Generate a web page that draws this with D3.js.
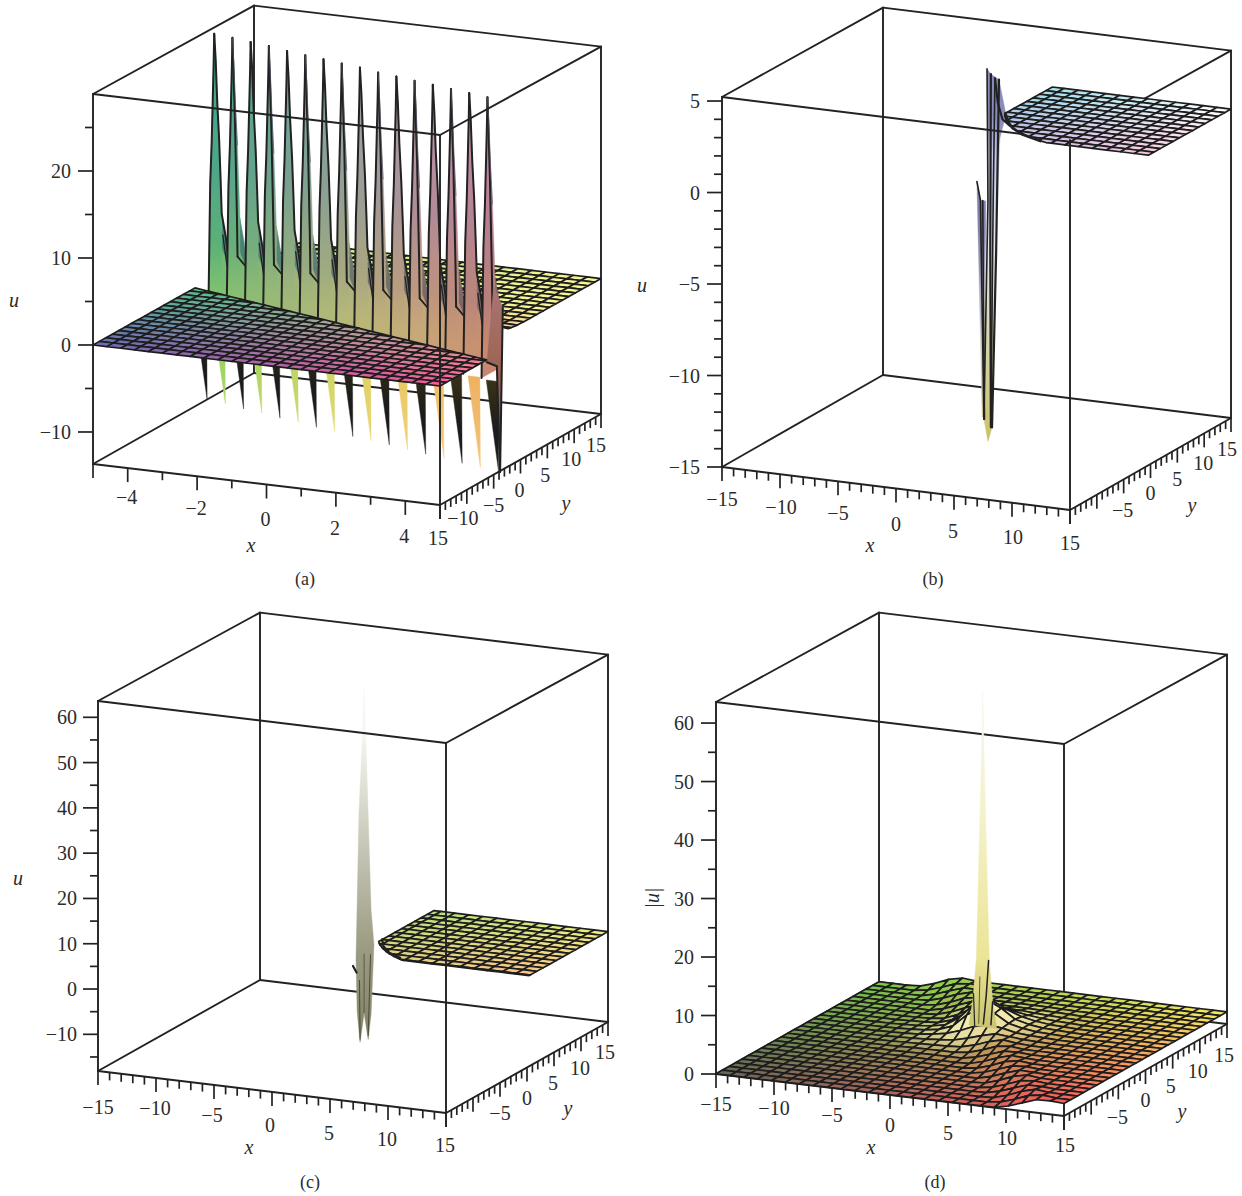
<!DOCTYPE html>
<html><head><meta charset="utf-8">
<script src="https://cdnjs.cloudflare.com/ajax/libs/d3/7.8.5/d3.min.js"></script>
<style>html,body{margin:0;padding:0;background:#fff}svg{display:block}text{font-family:"Liberation Serif",serif;fill:#2b2b2b}</style>
</head><body>
<svg id="chart" width="1242" height="1196"></svg>
<script>
// ---------- axis tick labels ----------
const aXTicks=[-4,-2,0,2,4];
const aZTicks=[-10,0,10,20];
const fullXTicks=[-15,-10,-5,0,5,10,15];
const aYTicks=[-15,-10,-5,0,5,10,15];
const yTicks=[-5,0,5,10,15];
const bZTicks=[-15,-10,-5,0,5];
const cZTicks=[-10,0,10,20,30,40,50,60];
const dZTicks=[0,10,20,30,40,50,60];
const captions=["(a)","(b)","(c)","(d)"];

// ---------- panel (a): spikes along the soliton ridge ----------
const aSpikeX=[-4.6,-3.99,-3.38,-2.77,-2.16,-1.55,-0.94,-0.33,0.28,0.89,1.5,2.11,2.72,3.33,3.94,4.55];
const aSpikeY=[5,4.45,3.9,3.35,2.8,2.25,1.7,1.15,0.6,0.05,-0.5,-1.05,-1.6,-2.15,-2.7,-3.25];
const aSpikeTop=[29.2,29.2,29.2,29.2,29.1,29.1,29.1,29.1,29.1,29.0,29.0,29.0,29.0,29.0,29.0,29.0];
const aLowX=[-4.85,-4.24,-3.63,-3.02,-2.41,-1.8,-1.19,-0.58,0.03,0.64,1.25,1.86,2.47,3.08,3.69,4.3,4.91];
const aLowY=[5.3,4.75,4.2,3.65,3.1,2.55,2,1.45,0.9,0.35,-0.2,-0.75,-1.3,-1.85,-2.4,-2.95,-3.5];
const aLowZ=[-13.3,-13.3,-13.4,-13.4,-13.5,-13.5,-13.6,-13.6,-13.7,-13.7,-13.7,-13.8,-13.8,-13.8,-13.9,-13.9,-13.95];
const sliverLeftDy=[-1.1,-0.75,-0.47,-0.28,-0.1,0];
const sliverLeftZ=[-3,12.1,16.9,21.5,26,29.2];
const sliverRightDy=[0,0.28,0.56,0.93,1.2,1.4];
const sliverRightZ=[29.2,26,21.2,16.5,11.8,7.9];
const humpDy=[1.4,2.2,2.6,5];
const humpZ=[7.9,4.8,2.5,1.5];
const aWallY=[-6.25,-4.4,-3.8,-3.3,-5];
const aWallZ=[-0.3,-1.4,-13.8,5,8];
const aFarS=[4,6,40];
const aFarZ=[2.2,2,2];
// ---------- panel (b) ----------
const bMainX=[-2.25,-2.6,-2.6,-2.25,-2.33,-2,-1.65,-1.3,-1.2,-1.55,-1.9];
const bMainZ=[-16.3,-15.1,-10,-1,4.16,3.9,3.7,3.65,0.8,-6,-15.5];
const bShortX=[-3.2,-2.9,-2.45,-2.45,-2.75];
const bShortZ=[-2.1,-3.1,-3.1,-15,-15];
const bHumpX=[-2,-1.3,-0.7,-1.4];
const bHumpZ=[3.9,3.65,1.78,0];
const bLinesX=[[-2.33,-2.25,-2.6],[-2,-2.05,-2],[-1.65,-1.8,-2],[-1.3,-1.55,-1.9],[-3.2,-2.9,-2.6],[-2.7,-2.65,-2.55],[-1.65,-1.4,-1,-0.4]];
const bLinesZ=[[4.16,-3.1,-15.1],[3.9,-5.8,-15.5],[3.7,-3,-15.5],[3.65,-6,-15.5],[-2.1,-3.1,-15.1],[-3.1,-8,-15.1],[3.7,2.36,1.5,1.2]];
const bRimX=[-0.4,0.8,2,3.4,5.6];
const bRimY=[6.25,4.1,2.4,1.07,-0.2];
// ---------- panel (c) ----------
const cSpikeX=[-2.3,-2.12,-1.95,-1.7,-1.45,-1.7,-1.95,-2.3,-2.65,-2.9,-3,-2.75,-2.5];
const cSpikeZ=[56.3,42.6,28,7,-0.66,-16.1,-21.85,-16.1,-22.7,-16,-4.4,28,42.6];
const cMarkX=[-3.26,-2.95];
const cMarkZ=[-5.96,-7.3];
const cRimX=[0,1,2.2,3.6];
const cRimY=[5.4,3.5,2,1];
// ---------- panel (d) ----------
const dStepS=[-60,-5,-4,-2,-0.5,1,3,60];
const dStepZ=[0,0,0.15,1,1.9,2.4,2.1,2];
const dRadialR=[0,1.2,2.4,3.6,5,8,80];
const dRadialZ=[4,3.2,1.4,0.7,0.3,0.05,0];
const dPeakZ=[59,50,40,23,13,6,1.5];
const dPeakHalf=[0,0.09,0.22,0.43,0.56,0.86,1.2];

// ---------- panel layout ----------
const panels={
 a:{o:[93,464],ex:[347,41],ey:[161,-91],h:370,xd:[-5,5],yd:[-15,15],zd:[-13.68,28.85],
    c00:"#6a6ab8",c10:"#f85898",c01:"#48f478",c11:"#f5f590",xStep:1,xMajor:2,zMinor:5},
 b:{o:[722,467],ex:[348,43],ey:[161,-92],h:370,xd:[-15,15],yd:[-15,15],zd:[-15,5.22],
    c00:"#af87ff",c10:"#f191c1",c01:"#41c9d9",c11:"#ffffff",xStep:1,xMajor:5,zMinor:1},
 c:{o:[98,1071],ex:[348,42],ey:[162,-91],h:370,xd:[-15,15],yd:[-15,15],zd:[-18.1,63.6],
    c00:"#ffff70",c10:"#ff9090",c01:"#80d080",c11:"#f0f080",xStep:1,xMajor:5,zMinor:5},
 d:{o:[716,1074],ex:[348,42],ey:[163,-92],h:372,xd:[-15,15],yd:[-15,15],zd:[0,63.6],
    c00:"#66665a",c10:"#ff5c5c",c01:"#78c848",c11:"#f8ec60",xStep:1,xMajor:5,zMinor:5}
};
const svg=d3.select("#chart"), defs=svg.append("defs");
const INK="#222", line=d3.line(), BOX=1.9, CELL=1.7;
let gid=0;
for(const k in panels){
 const c=panels[k];
 const fx=d3.scaleLinear().domain(c.xd).range([0,1]),
       fy=d3.scaleLinear().domain(c.yd).range([0,1]),
       fz=d3.scaleLinear().domain(c.zd).range([0,c.h]);
 c.fx=fx;c.fy=fy;
 c.P=(x,y,z)=>[c.o[0]+fx(x)*c.ex[0]+fy(y)*c.ey[0], c.o[1]+fx(x)*c.ex[1]+fy(y)*c.ey[1]-fz(z)*(1-0.007*fy(y))];
 c.g=svg.append("g").attr("id","panel-"+k);
 c.color=(x,y)=>{const a=d3.interpolateRgb(c.c00,c.c10)(fx(x)),b=d3.interpolateRgb(c.c01,c.c11)(fx(x));return d3.interpolateRgb(a,b)(fy(y));};
}
function seg(c,pts,w=BOX,col=INK,cap="round"){
 c.g.append("path").attr("d",line(pts)).attr("fill","none").attr("stroke",col).attr("stroke-width",w).attr("stroke-linecap",cap).attr("stroke-linejoin","round");
}
function grad(c,stops){ // stops: [z,color]
 const id="g"+(gid++),y0=c.P(c.xd[0],c.yd[0],stops[0][0])[1],y1=c.P(c.xd[0],c.yd[0],stops[stops.length-1][0])[1];
 return {id,add(dy=0){
  const g=defs.append("linearGradient").attr("id",id).attr("gradientUnits","userSpaceOnUse").attr("x1",0).attr("x2",0).attr("y1",y0+dy).attr("y2",y1+dy);
  stops.forEach(s=>{g.append("stop").attr("offset",(c.P(c.xd[0],c.yd[0],s[0])[1]-y0)/(y1-y0)).attr("stop-color",s[1]);});
  return "url(#"+id+")";}};
}
function poly(c,pts,fill,stroke){
 c.g.append("path").attr("d",line(pts)+"Z").attr("fill",fill).attr("stroke",stroke||fill).attr("stroke-width",stroke?1:0.4);
}
function backBox(c){
 const [x0,x1]=c.xd,[y0,y1]=c.yd,[z0,z1]=c.zd,P=c.P;
 [[[x0,y1,z0],[x0,y1,z1]],[[x0,y0,z1],[x0,y1,z1]],[[x0,y1,z1],[x1,y1,z1]],[[x0,y0,z0],[x0,y1,z0]],[[x0,y1,z0],[x1,y1,z0]],
  [[x0,y0,z0],[x1,y0,z0]],[[x1,y0,z0],[x1,y1,z0]],[[x1,y1,z0],[x1,y1,z1]]]
 .forEach(s=>seg(c,s.map(p=>P(...p))));
}
function frontTop(c){
 const [x0,x1]=c.xd,[y0,y1]=c.yd,z1=c.zd[1],P=c.P;
 seg(c,[P(x0,y0,z1),P(x1,y0,z1)]);seg(c,[P(x1,y0,z1),P(x1,y1,z1)]);
}
function frontVerticals(c){
 const [x0,x1]=c.xd,[y0,y1]=c.yd,[z0,z1]=c.zd,P=c.P;
 seg(c,[P(x0,y0,z0),P(x0,y0,z1)]);
 seg(c,[P(x1,y0,z0),P(x1,y0,z1)]);
}
function axes(c,cfg){
 const [x0,x1]=c.xd,[y0,y1]=c.yd,[z0,z1]=c.zd,P=c.P;
 const g=c.g;
 const txt=(x,y,s,anchor="middle")=>g.append("text").attr("x",x).attr("y",y).attr("text-anchor",anchor).attr("dominant-baseline","central").attr("font-size",20).text(String(s).replace("-","\u2212"));
 d3.range(x0,x1+0.001,c.xStep).forEach(v=>{const p=P(v,y0,z0),m=Math.abs(v%c.xMajor)<1e-6||v===x0||v===x1;seg(c,[p,[p[0],p[1]+(m?14:8)]],1.7,INK,"butt");});
 d3.range(y0,y1+0.001,1).forEach(v=>{const p=P(x1,v,z0),m=Math.abs(v%5)<1e-6;seg(c,[p,[p[0],p[1]+(m?14:8)]],1.7,INK,"butt");});
 const zs=d3.range(Math.ceil(z0/c.zMinor)*c.zMinor,z1+0.001,c.zMinor);
 zs.forEach(v=>{const p=P(x0,y0,v),m=cfg.zTicks.includes(v);seg(c,[p,[p[0]-(m?15:8),p[1]]],1.7,INK,"butt");});
 cfg.xTicks.forEach((v,i)=>{const p=P(v,y0,z0),o=cfg.xOff[i];txt(p[0]+o[0],p[1]+o[1],v);});
 cfg.yTicks.forEach((v,i)=>{const p=P(x1,v,z0),o=cfg.yOff[i];txt(p[0]+o[0],p[1]+o[1],cfg.yText?cfg.yText(v):v);});
 cfg.zTicks.forEach(v=>{const p=P(x0,y0,v);txt(cfg.zEnd,p[1],v,"end");});
 const lab=(p,s,rot)=>{const t=g.append("text").attr("x",p[0]).attr("y",p[1]).attr("text-anchor","middle").attr("dominant-baseline","central").attr("font-size",20).attr("font-style","italic").text(s);if(rot)t.attr("transform",`rotate(-90 ${p[0]} ${p[1]})`);};
 lab(cfg.xLab,"x");lab(cfg.yLab,"y");lab(cfg.zLab,cfg.zName||"u",cfg.rot);
}
function clipPoly(pts,fn){
 const out=[];
 for(let i=0;i<pts.length;i++){
  const a=pts[i],b=pts[(i+1)%pts.length],fa=fn(a[0],a[1]),fb=fn(b[0],b[1]);
  if(fa>=0)out.push(a);
  if((fa>=0)!==(fb>=0)){const t=fa/(fa-fb);out.push([a[0]+t*(b[0]-a[0]),a[1]+t*(b[1]-a[1])]);}
 }
 return out;
}
function surface(c,n,keep,zOf,colorOf){
 const xs=d3.range(n[0]+1).map(i=>c.xd[0]+(c.xd[1]-c.xd[0])*i/n[0]),
       ys=d3.range(n[1]+1).map(i=>c.yd[0]+(c.yd[1]-c.yd[0])*i/n[1]);
 const cells=[];
 for(let i=0;i<n[0];i++)for(let j=0;j<n[1];j++)cells.push([i,j]);
 cells.sort((a,b)=>(b[1]-b[0])-(a[1]-a[0]));
 const g=c.g.append("g").attr("stroke","#1d1d1d").attr("stroke-width",CELL).attr("stroke-linejoin","round");
 cells.forEach(([i,j])=>{
  let q=[[xs[i],ys[j]],[xs[i+1],ys[j]],[xs[i+1],ys[j+1]],[xs[i],ys[j+1]]];
  keep.forEach(fn=>{if(q.length)q=clipPoly(q,fn);});
  if(q.length<3)return;
  const cx=d3.mean(q,p=>p[0]),cy=d3.mean(q,p=>p[1]);
  g.append("path").attr("d",line(q.map(p=>c.P(p[0],p[1],zOf(p[0],p[1]))))+"Z")
   .attr("fill",colorOf?colorOf(cx,cy,zOf(cx,cy)):c.color(cx,cy));
 });
}

// ================= PANEL A =================
{
 const c=panels.a,P=c.P;
 backBox(c);
 const ridge=d3.scaleLinear().domain([-5,5]).range([4,-6.3]);
 const farZ=d3.scaleLinear().domain(aFarS).range(aFarZ);
 const warm=d3.scaleLinear().domain([5,-3]).range([0,0.85]).clamp(true);
 surface(c,[25,25],[(x,y)=>y-ridge(x)-4,(x,y)=>x+3.7],(x,y)=>farZ(y-ridge(x)),
  (x,y)=>d3.interpolateRgb(d3.interpolateRgb("#b8e890","#f8f494")(c.fx(x)),"#fcc090")(warm(y)));
 const topCol=d3.piecewise(d3.interpolateRgb,["#3ca88e","#6aa8a0","#9aa6a6","#b89ab0","#c888b4"]),
       midCol=d3.piecewise(d3.interpolateRgb,["#4ea68a","#76a090","#98a094","#b08c98","#b88090"]),
       baseCol=d3.piecewise(d3.interpolateRgb,["#5cb078","#90ac80","#a8a880","#c09880","#b88078"]),
       humpCol=d3.piecewise(d3.interpolateRgb,["#468a78","#5f8a7c","#757c72","#80706e","#8a6a70"]),
       curtCol=d3.piecewise(d3.interpolateRgb,["#7cc070","#a0b878","#b8b878","#c8a878","#c88870"]),
       lowCol=d3.piecewise(d3.interpolateRgb,["#80cc50","#a8d058","#d8d060","#ecc060","#eeaa60"]);
 // lower spikes
 aLowX.forEach((x,j)=>{
  const y=aLowY[j],z=aLowZ[j],t=j/16,dark=j%2===0;
  const pts=[P(x-0.17,y-1.2,-3),P(x+0.17,y-1.2,-3),P(x,y,z)];
  const dy=P(x,y,0)[1]-P(c.xd[0],c.yd[0],0)[1];
  const gr=grad(c,dark?[[-3,"#3a3418"],[-7,"#262418"],[-9,"#1c1c1c"],[-14,"#1c1c1c"]]:[[-3,lowCol(t)],[-14,d3.interpolateRgb(lowCol(t),"#fff0a0")(0.35)]]);
  poly(c,pts,gr.add(dy));
 });
 // upper spikes
 aSpikeX.forEach((x,i)=>{
  const y=aSpikeY[i],t=i/15,k=aSpikeTop[i]/29.2,lim=i===15?2.6:99;
  const A=(d,z)=>P(x,y+Math.min(d,lim),z*k);
  const py0=P(x,y,0)[1]-P(c.xd[0],c.yd[0],0)[1];
  // curtain reaches down below the near plate's back edge
  const cur=grad(c,[[8,baseCol(t)],[0,curtCol(t)]]);
  poly(c,[A(1.2,-3),A(1.2,6),A(2.4,3.6),A(3.7,2),A(3.7,-3)],cur.add(py0));
  // hump
  const hg=grad(c,[[10,humpCol(t)],[2,d3.interpolateRgb(humpCol(t),"#000")(0.08)]]);
  poly(c,[...humpDy.map((d,n)=>A(d,humpZ[n])),A(3.4,1.5),A(2.6,1.8),A(1.4,4)],hg.add(py0));
  // sliver
  const sg=grad(c,[[29,topCol(t)],[14,midCol(t)],[5,baseCol(t)],[0,curtCol(t)]]);
  poly(c,[...sliverLeftDy.map((d,n)=>A(d,sliverLeftZ[n])),...sliverRightDy.map((d,n)=>A(d,sliverRightZ[n])),A(1.4,-3)],sg.add(py0));
  // ink
  seg(c,sliverLeftDy.map((d,n)=>A(d,sliverLeftZ[n])),2);
  if(i%2===0){
   seg(c,[...sliverRightDy.map((d,n)=>A(d,sliverRightZ[n])),...humpDy.slice(1,3).map((d,n)=>A(d,humpZ[n+1]))],2);
   seg(c,[A(1.6,5.4),A(2.4,1.5)],1.3);
  } else {
   seg(c,[A(0,29.2),A(0.45,20),A(0.85,8),A(0.95,3.6)],2);
   seg(c,[A(0.95,3.6),A(2.8,1.6)],1.8);
   seg(c,sliverRightDy.slice(0,4).map((d,n)=>A(d,sliverRightZ[n])),0.7,"#556");
  }
 });
 // right end wall
 const wg=grad(c,[[8,"#a87478"],[0,"#a06858"],[-14,"#6a4a3a"]]);
 poly(c,aWallY.map((v,i)=>P(5,v,aWallZ[i])),wg.add(8));
 seg(c,[P(5,-3.3,5),P(5,-3.8,-13.8)],2);
 // near plate
 surface(c,[25,25],[(x,y)=>ridge(x)-y],()=>0);
 seg(c,[P(5,-6.25,-0.3),P(5,-4.4,-1.4),P(5,-4.15,-7),P(5,-3.8,-13.8)],2);
 frontTop(c);
 frontVerticals(c);
 axes(c,{xTicks:aXTicks,xOff:[[-1,29],[-1,32],[-1,34],[-1,35],[-1,35]],
  yTicks:aYTicks,yOff:[[-2,33],[-4,28],[0,30],[-1,30],[-2,31],[-3,30],[-5,31]],
  yText:v=>v===-15?"15":v,
  zTicks:aZTicks,zEnd:71,xLab:[251,545],yLab:[566,503],zLab:[14,300]});
}
// ================= PANEL B =================
{
 const c=panels.b,P=c.P,Y=7;
 backBox(c);
 const hg=grad(c,[[4,"#8a8ab8"],[0,"#c8c8e4"]]);
 poly(c,bShortX.map((x,i)=>P(x,Y,bShortZ[i])),grad(c,[[-2,"#8080a8"],[-8,"#c8c8d0"],[-15,"#c0b860"]]).add());
 poly(c,bMainX.map((x,i)=>P(x,Y,bMainZ[i])),grad(c,[[4.2,"#8c8cbc"],[2,"#c4c8e8"],[-3,"#e6e8f0"],[-8,"#d8d4b0"],[-14,"#c8c060"],[-16.3,"#d8d24c"]]).add());
 poly(c,bHumpX.map((x,i)=>P(x,Y,bHumpZ[i])),hg.add());
 bLinesX.forEach((xs,k)=>seg(c,xs.map((x,i)=>P(x,Y,bLinesZ[k][i])),k===1||k===3||k===6?2.2:1.6));
 frontTop(c);
 surface(c,[25,25],[(x,y)=>x+y-4.45-0.03*(x-y)*(x-y),(x,y)=>x+0.4,(x,y)=>y+0.4],()=>2);
 seg(c,bRimX.map((x,i)=>P(x,bRimY[i],2)),2.6);
 frontVerticals(c);
 axes(c,{xTicks:fullXTicks,xOff:[[0,32],[1,33],[0,32],[0,35],[-1,35],[1,34],[0,33]],
  yTicks:yTicks,yOff:[[-1,31],[0,29],[0,30],[-1,30],[-4,31]],
  zTicks:bZTicks,zEnd:700,xLab:[870,545],yLab:[1192,505],zLab:[642,285]});
}
// ================= PANEL C =================
{
 const c=panels.c,P=c.P,Y=7;
 backBox(c);
 poly(c,cSpikeX.map((x,i)=>P(x,Y,cSpikeZ[i])),grad(c,[[56.3,"#f6f6f2"],[48,"#e6e6dc"],[28,"#c0c0b0"],[8,"#9a9a80"],[-5,"#8a8a70"],[-22.7,"#6a6a50"]]).add());
 seg(c,[P(-2.3,Y,-16),P(-2.3,Y,-3)],1,"#5a5a48");
 seg(c,[P(-2.65,Y,-22),P(-2.7,Y,-9)],1,"#4a4a38");
 seg(c,[P(-1.95,Y,-21),P(-1.75,Y,-3)],1,"#4a4a38");
 seg(c,cMarkX.map((x,i)=>P(x,Y,cMarkZ[i])),2.2);
 surface(c,[25,25],[(x,y)=>x+y-4.05-0.03*(x-y)*(x-y),(x,y)=>x,(x,y)=>y-0.4],()=>2);
 seg(c,cRimX.map((x,i)=>P(x,cRimY[i],2)),2.4);
 frontTop(c);
 frontVerticals(c);
 axes(c,{xTicks:fullXTicks,xOff:[[0,36],[-1,30],[-2,30],[-2,33],[-1,34],[-1,33],[-1,32]],
  yTicks:yTicks,yOff:[[0,30],[0,30],[-1,31],[-1,31],[-3,30]],
  zTicks:cZTicks,zEnd:77,xLab:[249,1147],yLab:[568,1108],zLab:[18,878]});
}
// ================= PANEL D =================
{
 const c=panels.d,P=c.P,px=-0.9,py=4;
 backBox(c);
 frontTop(c);
 frontVerticals(c);
 const step=d3.scaleLinear().domain(dStepS).range(dStepZ),radial=d3.scaleLinear().domain(dRadialR).range(dRadialZ);
 const zOf=(x,y)=>step(1.43*(x-px)+(y-py))+radial(Math.hypot(x-px,y-py));
 const pale=d3.scaleLinear().domain([2,7]).range([0.85,0]).clamp(true);
 surface(c,[25,25],[],zOf,(x,y)=>d3.interpolateRgb(c.color(x,y),"#fff8c0")(pale(Math.hypot(x-px,y-py))));
 const right=dPeakZ.map((z,i)=>P(px+dPeakHalf[i],py,z)),left=dPeakZ.map((z,i)=>P(px-dPeakHalf[i],py,z));
 poly(c,[...right,...left.slice().reverse()],grad(c,[[59,"#f4f4e6"],[45,"#f4f2cc"],[20,"#ece496"],[8,"#c8c470"],[1.5,"#f2eab0"]]).add());
 seg(c,[P(px+0.5,py,13),P(px+0.3,py,7),P(px+0.05,py,2)],1.5);
 seg(c,[P(px+0.85,py,6),P(px+0.7,py,2)],1.5);
 seg(c,[P(px-0.8,py,7),P(px-0.7,py,1.5)],1.2);
 seg(c,[P(px-0.25,py,10),P(px-0.35,py,2)],1,"#5a5a30");
 axes(c,{xTicks:fullXTicks,xOff:[[0,30],[0,27],[0,27],[0,30],[0,31],[1,29],[1,29]],
  yTicks:yTicks,yOff:[[-1,32],[0,30],[-2,31],[-2,32],[-3,31]],
  zTicks:dZTicks,zEnd:694,xLab:[871,1147],yLab:[1182,1111],zLab:[652,898],zName:"|u|",rot:true});
}
// captions
[[305,579],[933,579],[310,1182],[935,1182]].forEach((p,i)=>{
 svg.append("text").attr("x",p[0]).attr("y",p[1]).attr("text-anchor","middle").attr("dominant-baseline","central").attr("font-size",18).text(captions[i]);
});
</script>
</body></html>
